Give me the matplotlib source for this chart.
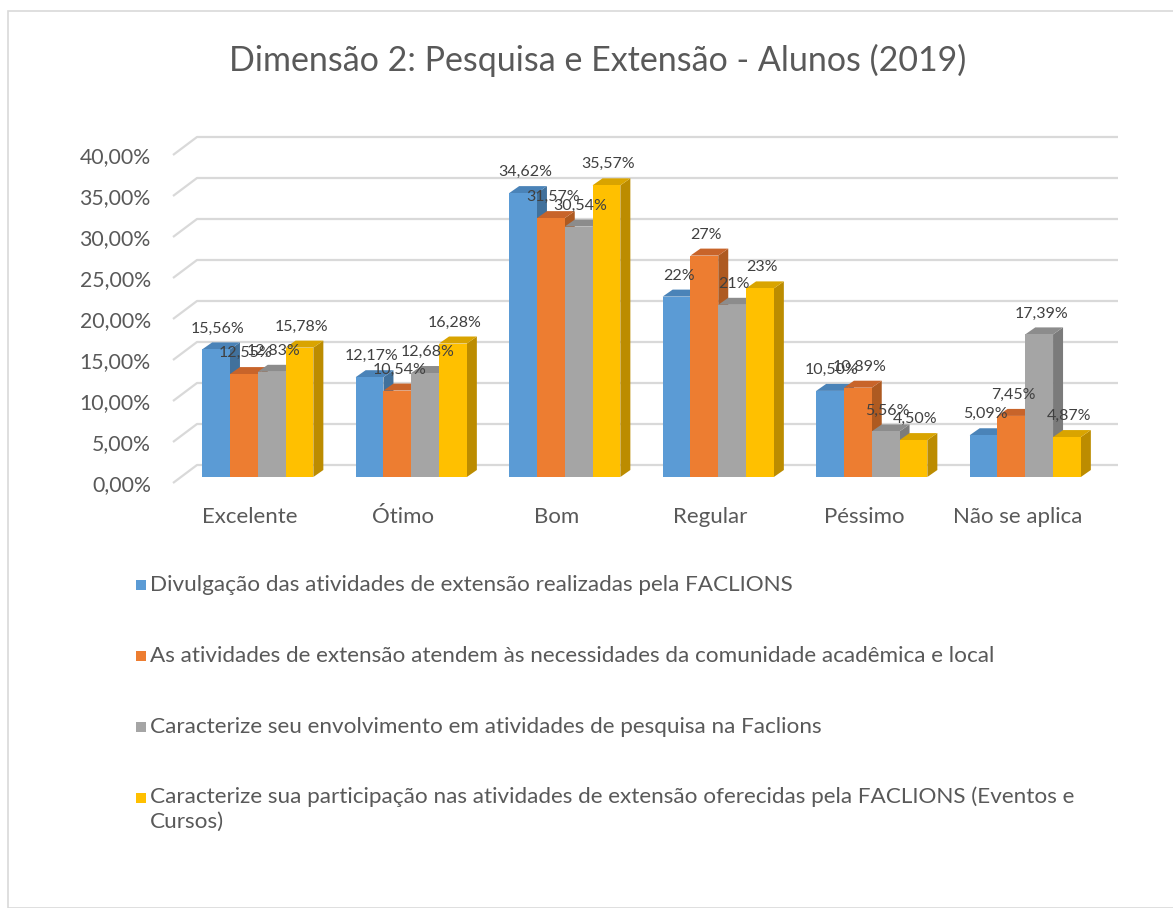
import matplotlib
matplotlib.use("Agg")
import matplotlib.pyplot as plt
from matplotlib.patches import Polygon, Rectangle
import numpy as np

categories = ["Excelente", "Ótimo", "Bom", "Regular", "Péssimo", "Não se aplica"]
series_names = [
    "Divulgação das atividades de extensão realizadas pela FACLIONS",
    "As atividades de extensão atendem às necessidades da comunidade acadêmica e local",
    "Caracterize seu envolvimento em atividades de pesquisa na Faclions",
    "Caracterize sua participação nas atividades de extensão oferecidas pela FACLIONS (Eventos e\nCursos)",
]
divulgacao = [15.56, 12.17, 34.62, 22, 10.50, 5.09]
atendem = [12.55, 10.54, 31.57, 27, 10.89, 7.45]
pesquisa = [12.83, 12.68, 30.54, 21, 5.56, 17.39]
participacao = [15.78, 16.28, 35.57, 23, 4.50, 4.87]
series_values = [divulgacao, atendem, pesquisa, participacao]
y_ticks = [0, 5, 10, 15, 20, 25, 30, 35, 40]
y_tick_labels = ["0,00%", "5,00%", "10,00%", "15,00%", "20,00%", "25,00%", "30,00%", "35,00%", "40,00%"]

front_colors = ["#5B9BD5", "#ED7D31", "#A5A5A5", "#FFC000"]
side_colors = ["#41719C", "#AE5A21", "#7B7B7B", "#BC8C00"]
top_colors = ["#4A83B8", "#C8642A", "#8C8C8C", "#D9A400"]

FONT = "Lato"
TXT = "#595959"
W, H = 1173, 908
DPI = 100
fig = plt.figure(figsize=(W / DPI, H / DPI), dpi=DPI)

# chart border
fig.patches.append(Rectangle((8 / W, 0), 1.2, 1 - 11 / H, transform=fig.transFigure,
                             fill=False, edgecolor="#D9D9D9", linewidth=1.2))

ax_l, ax_r, ax_b, ax_t = 173, 1094, 483, 155
ax = fig.add_axes([ax_l / W, 1 - ax_b / H, (ax_r - ax_l) / W, (ax_b - ax_t) / H])
ax.set_xlim(-0.5, 5.5)
ax.set_ylim(0, 40)
for s in ax.spines.values():
    s.set_visible(False)
ax.patch.set_visible(False)

px2dx = 6.0 / (ax_r - ax_l)
px2dy = 40.0 / (ax_b - ax_t)

# gridlines (front edge diagonal + back wall)
gdx, gdy = 24 * px2dx, 18 * px2dy
for yv in y_ticks:
    ax.plot([-0.5, -0.5 + gdx, 5.5 + gdx], [yv, yv + gdy, yv + gdy],
            color="#D9D9D9", lw=1.6, clip_on=False, zorder=1, solid_capstyle="butt")

# bars
bw = 27.8 * px2dx
off_x, off_y = 8 * px2dx, 6 * px2dy
ddx, ddy = 10 * px2dx, 7 * px2dy
x = np.arange(len(categories))
z = 2
for i in range(len(categories)):
    for j, vals in enumerate(series_values):
        h = vals[i]
        xc = x[i] + (j - 1.5) * bw + off_x
        xl, xr = xc - bw / 2, xc + bw / 2
        b = off_y
        side = Polygon([(xr, b), (xr + ddx, b + ddy), (xr + ddx, b + h + ddy), (xr, b + h)],
                       closed=True, facecolor=side_colors[j], edgecolor="none",
                       clip_on=False, zorder=z)
        top = Polygon([(xl, b + h), (xr, b + h), (xr + ddx, b + h + ddy), (xl + ddx, b + h + ddy)],
                      closed=True, facecolor=top_colors[j], edgecolor="none",
                      clip_on=False, zorder=z)
        ax.add_patch(side)
        ax.add_patch(top)
        ax.bar([xc], [h], width=bw, bottom=b, color=front_colors[j],
               edgecolor="none", clip_on=False, zorder=z + 0.5)
        z += 1
        lab = (f"{h}%" if isinstance(h, int) else f"{h:.2f}".replace(".", ",") + "%")
        ax.text(xc + 2 * px2dx, b + h + 21 * px2dy, lab, ha="center", va="center",
                fontsize=11.5, color="#404040", family=FONT, zorder=100, clip_on=False)

ax.set_yticks(y_ticks)
ax.set_yticklabels(y_tick_labels, family=FONT, fontsize=15.3, color=TXT)
ax.set_xticks(x)
ax.set_xticklabels(categories, family=FONT, fontsize=16, color=TXT)
ax.tick_params(axis="y", length=0, pad=16)
ax.tick_params(axis="x", length=0, pad=17.5)

# title
fig.text(598 / W, 1 - 60 / H, "Dimensão 2: Pesquisa e Extensão - Alunos (2019)",
         ha="center", va="center", fontsize=24.5, color=TXT, family=FONT)

# legend
leg_y = [585, 656, 727, 798]
for name, col, yy in zip(series_names, front_colors, leg_y):
    fig.patches.append(Rectangle((136 / W, 1 - (yy + 5) / H), 10 / W, 10 / H,
                                 transform=fig.transFigure, facecolor=col, edgecolor="none"))
    if "\n" in name:
        fig.text(150 / W, 1 - (yy - 12) / H, name, ha="left", va="top",
                 fontsize=16.2, color=TXT, family=FONT, linespacing=1.35)
    else:
        fig.text(150 / W, 1 - yy / H, name, ha="left", va="center",
                 fontsize=16.2, color=TXT, family=FONT)

fig.savefig("out.png", dpi=DPI)
